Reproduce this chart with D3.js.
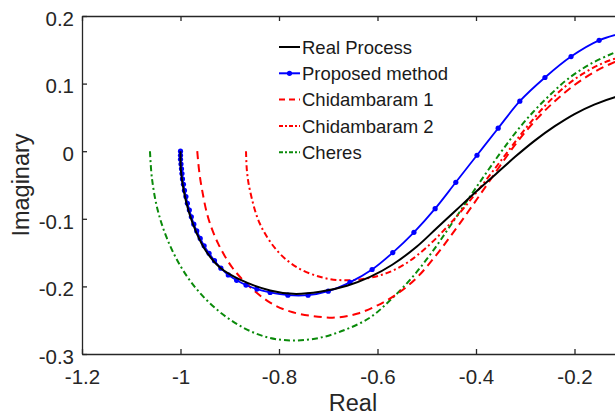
<!DOCTYPE html>
<html>
<head>
<meta charset="utf-8">
<script src="https://cdn.jsdelivr.net/npm/d3@7"></script>
<style>
    body { margin: 0; background: #fff; }
    svg { display: block; font-family: "Liberation Sans", Arial, sans-serif; }
    .axis path, .axis line { stroke: #262626; stroke-width: 1.3; }
    .axis text { fill: #262626; font-size: 20.5px; }
</style>
</head>
<body>
<div id="chart"></div>
<script>
// Nyquist data, [real, imaginary]
const realProcess = [
    [-1.000, 0.000], [-0.999, -0.030], [-0.993, -0.060], [-0.983, -0.090],
    [-0.968, -0.120], [-0.948, -0.148], [-0.920, -0.172], [-0.879, -0.190],
    [-0.818, -0.206], [-0.771, -0.211], [-0.717, -0.208], [-0.662, -0.199],
    [-0.615, -0.186], [-0.570, -0.168], [-0.520, -0.141], [-0.480, -0.114],
    [-0.440, -0.087], [-0.400, -0.060], [-0.360, -0.034], [-0.320, -0.008],
    [-0.280, 0.016], [-0.240, 0.037], [-0.200, 0.055], [-0.160, 0.069],
    [-0.118, 0.080], [-0.080, 0.086]
];

const proposed = [
    [-1.000, 0.000], [-1.000, -0.006], [-1.000, -0.012], [-0.999, -0.019],
    [-0.998, -0.026], [-0.997, -0.033], [-0.996, -0.041], [-0.994, -0.049],
    [-0.992, -0.058], [-0.989, -0.067], [-0.986, -0.077], [-0.982, -0.087],
    [-0.978, -0.097], [-0.973, -0.108], [-0.967, -0.118], [-0.960, -0.129],
    [-0.952, -0.140], [-0.942, -0.151], [-0.931, -0.162], [-0.918, -0.173],
    [-0.903, -0.183], [-0.886, -0.191], [-0.867, -0.198], [-0.845, -0.204],
    [-0.818, -0.209], [-0.782, -0.213], [-0.741, -0.213], [-0.700, -0.207],
    [-0.656, -0.194], [-0.611, -0.175], [-0.569, -0.150], [-0.526, -0.120],
    [-0.483, -0.085], [-0.441, -0.046], [-0.398, -0.006], [-0.355, 0.034],
    [-0.311, 0.074], [-0.260, 0.109], [-0.207, 0.140], [-0.150, 0.164],
    [-0.090, 0.177]
];

const chidambaram1 = [
    [-0.966, 0.000], [-0.962, -0.030], [-0.956, -0.058], [-0.944, -0.098],
    [-0.924, -0.136], [-0.895, -0.172], [-0.860, -0.200], [-0.818, -0.224],
    [-0.778, -0.237], [-0.730, -0.244], [-0.682, -0.246], [-0.640, -0.240],
    [-0.600, -0.228], [-0.560, -0.211], [-0.520, -0.187], [-0.480, -0.153],
    [-0.440, -0.114], [-0.400, -0.073], [-0.360, -0.031], [-0.320, 0.010],
    [-0.280, 0.045], [-0.240, 0.074], [-0.200, 0.098], [-0.160, 0.117],
    [-0.118, 0.132], [-0.080, 0.141]
];

const chidambaram2 = [
    [-0.867, 0.000], [-0.865, -0.030], [-0.859, -0.058], [-0.839, -0.107],
    [-0.804, -0.147], [-0.763, -0.172], [-0.711, -0.187], [-0.666, -0.191],
    [-0.620, -0.188], [-0.580, -0.180], [-0.540, -0.165], [-0.500, -0.142],
    [-0.460, -0.113], [-0.420, -0.080], [-0.380, -0.043], [-0.340, -0.005],
    [-0.300, 0.033], [-0.260, 0.067], [-0.220, 0.095], [-0.180, 0.116],
    [-0.140, 0.131], [-0.100, 0.141], [-0.080, 0.145]
];

const cheres = [
    [-1.062, 0.000], [-1.058, -0.040], [-1.047, -0.085], [-1.028, -0.128],
    [-1.000, -0.170], [-0.965, -0.206], [-0.920, -0.238], [-0.870, -0.262],
    [-0.820, -0.276], [-0.770, -0.280], [-0.717, -0.276], [-0.665, -0.264],
    [-0.615, -0.246], [-0.575, -0.221], [-0.530, -0.187], [-0.490, -0.150],
    [-0.450, -0.108], [-0.400, -0.054], [-0.350, -0.002], [-0.317, 0.030],
    [-0.284, 0.058], [-0.250, 0.083], [-0.215, 0.106], [-0.170, 0.128],
    [-0.118, 0.146], [-0.080, 0.156]
];

const xTicks = [-1.2, -1, -0.8, -0.6, -0.4, -0.2];
const yTicks = [-0.3, -0.2, -0.1, 0, 0.1, 0.2];

const series = [
    { name: "Real Process", data: realProcess, color: "#000000", dash: null, marker: false },
    { name: "Proposed method", data: proposed, color: "#0000ff", dash: null, marker: true },
    { name: "Chidambaram 1", data: chidambaram1, color: "#ff0000", dash: "8,5", marker: false },
    { name: "Chidambaram 2", data: chidambaram2, color: "#ff0000", dash: "6,3,2,3", marker: false },
    { name: "Cheres", data: cheres, color: "#0a8a0a", dash: "6,3,2,3", marker: false }
];

const W = 615, H = 418;
const margin = { top: 16, left: 82 };
const plotH = 338;

const x = d3.scaleLinear()
    .domain([-1.2, -0.1])
    .range([margin.left, margin.left + 541.75]);

const y = d3.scaleLinear()
    .domain([-0.3, 0.2])
    .range([margin.top + plotH, margin.top]);

const fmt = d => String(+d.toFixed(1));

const svg = d3.select("#chart")
    .append("svg")
    .attr("width", W)
    .attr("height", H);

svg.append("defs").append("clipPath")
    .attr("id", "plotClip")
    .append("rect")
    .attr("x", margin.left)
    .attr("y", margin.top)
    .attr("width", W - margin.left)
    .attr("height", plotH);

// axes (box with inward ticks)
svg.append("g")
    .attr("class", "axis")
    .attr("transform", "translate(0," + y(-0.3) + ")")
    .call(d3.axisBottom(x).tickValues(xTicks).tickFormat(fmt)
        .tickSizeInner(-5).tickSizeOuter(0).tickPadding(15));

svg.append("g")
    .attr("class", "axis")
    .attr("transform", "translate(0," + y(0.2) + ")")
    .call(d3.axisTop(x).tickValues(xTicks).tickFormat("")
        .tickSizeInner(-5).tickSizeOuter(0));

svg.append("g")
    .attr("class", "axis")
    .attr("transform", "translate(" + x(-1.2) + ",0)")
    .call(d3.axisLeft(y).tickValues(yTicks).tickFormat(fmt)
        .tickSizeInner(-5).tickSizeOuter(0).tickPadding(8))
    .selectAll("text").attr("dy", "0.45em");

// axis labels
svg.append("text")
    .attr("x", 353)
    .attr("y", 411)
    .attr("text-anchor", "middle")
    .attr("fill", "#262626")
    .style("font-size", "23.5px")
    .text("Real");

svg.append("text")
    .attr("transform", "translate(29," + 185 + ") rotate(-90)")
    .attr("text-anchor", "middle")
    .attr("fill", "#262626")
    .style("font-size", "23.5px")
    .text("Imaginary");

const line = d3.line()
    .curve(d3.curveCatmullRom.alpha(0.5))
    .x(d => x(d[0]))
    .y(d => y(d[1]));

const plot = svg.append("g").attr("clip-path", "url(#plotClip)");

// draw back to front so the blue and black sit on top
series.slice().reverse().forEach(s => {
    plot.append("path")
        .attr("d", line(s.data))
        .attr("fill", "none")
        .attr("stroke", s.color)
        .attr("stroke-width", s.marker ? 1.8 : 2)
        .attr("stroke-dasharray", s.dash);

    if (s.marker) {
        plot.selectAll(".dot")
            .data(s.data)
            .enter().append("circle")
            .attr("class", "dot")
            .attr("cx", d => x(d[0]))
            .attr("cy", d => y(d[1]))
            .attr("r", 2.6)
            .attr("fill", s.color);
    }
});

// legend
const legend = svg.append("g").attr("transform", "translate(279,47)");

series.forEach((s, i) => {
    const row = legend.append("g").attr("transform", "translate(0," + (i * 26.3) + ")");
    row.append("line")
        .attr("x1", 0).attr("x2", 21)
        .attr("y1", 0).attr("y2", 0)
        .attr("stroke", s.color)
        .attr("stroke-width", 2)
        .attr("stroke-dasharray", s.dash ? (s.dash === "8,5" ? "6,4" : "4,2,2,2") : null);
    if (s.marker) {
        row.append("circle").attr("cx", 10.5).attr("cy", 0).attr("r", 2.6).attr("fill", s.color);
    }
    row.append("text")
        .attr("x", 23)
        .attr("y", 0)
        .attr("dy", "0.36em")
        .attr("fill", "#1a1a1a")
        .style("font-size", "18.5px")
        .text(s.name);
});
</script>
</body>
</html>
